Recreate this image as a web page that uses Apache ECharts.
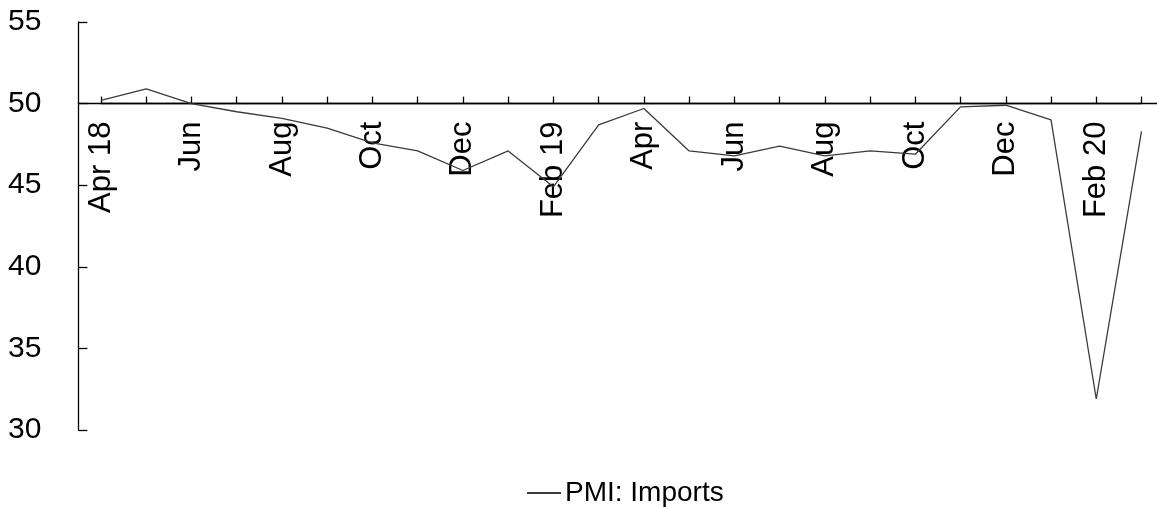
<!DOCTYPE html>
<html>
<head>
<meta charset="utf-8">
<script src="https://cdn.jsdelivr.net/npm/echarts@6/dist/echarts.min.js"></script>
<style>
html,body{margin:0;padding:0;background:#fff;}
#chart{width:1157px;height:507px;}
</style>
</head>
<body>
<div id="chart"></div>
<script>
const categories = ['Apr 18','May','Jun','Jul','Aug','Sep','Oct','Nov','Dec','Jan 19','Feb 19','Mar',
  'Apr','May','Jun','Jul','Aug','Sep','Oct','Nov','Dec','Jan 20','Feb 20','Mar'];
const pmiImports = [50.2, 50.9, 50.0, 49.5, 49.1, 48.5, 47.6, 47.1, 45.9, 47.1, 44.9, 48.7,
  49.7, 47.1, 46.8, 47.4, 46.8, 47.1, 46.9, 49.8, 49.9, 49.0, 31.9, 48.3];
const yTicks = [30, 35, 40, 45, 50, 55];
const seriesName = 'PMI: Imports';
const crossValue = 50;

const FONT = 'Liberation Sans, Arial, sans-serif';
const gridTop = 22, gridHeight = 408;
const axisX = 78.4, plotLeft = 101, plotRight = 1141.5;
const yMin = yTicks[0], yMax = yTicks[yTicks.length - 1];
const crossOffset = -(crossValue - yMin) / (yMax - yMin) * gridHeight;
const axisLineStyle = {color: '#000', width: 1.3};

const chart = echarts.init(document.getElementById('chart'), null, {renderer: 'canvas'});
chart.setOption({
  animation: false,
  backgroundColor: '#fff',
  textStyle: {fontFamily: FONT},
  grid: [
    {left: plotLeft, top: gridTop, height: gridHeight, right: 1157 - plotRight, containLabel: false},
    {left: axisX, top: gridTop, height: gridHeight, right: 0, containLabel: false}
  ],
  legend: {
    data: [seriesName],
    left: 522, top: 474,
    itemWidth: 34, itemHeight: 2, itemGap: 10,
    icon: 'rect',
    textStyle: {fontSize: 28, color: '#000', fontFamily: FONT, padding: [0,0,0,-1]}
  },
  xAxis: [{
    type: 'category',
    gridIndex: 0,
    data: categories,
    boundaryGap: false,
    position: 'bottom',
    offset: crossOffset,
    axisLine: {show: true, onZero: false, lineStyle: axisLineStyle},
    axisTick: {show: true, inside: true, length: 7, interval: 0, lineStyle: axisLineStyle},
    axisLabel: {interval: 1, rotate: 90, margin: 18, fontSize: 31, color: '#000', fontFamily: FONT},
    splitLine: {show: false}
  }, {
    type: 'value',
    gridIndex: 1,
    min: 0, max: 1,
    position: 'bottom',
    offset: crossOffset,
    axisLine: {show: true, onZero: false, lineStyle: axisLineStyle},
    axisTick: {show: false},
    axisLabel: {show: false},
    splitLine: {show: false}
  }],
  yAxis: [{
    type: 'value',
    gridIndex: 0,
    min: yMin, max: yMax, interval: 5,
    offset: plotLeft - axisX,
    axisLine: {show: true, lineStyle: axisLineStyle},
    axisTick: {show: true, inside: true, length: 9, lineStyle: axisLineStyle},
    axisLabel: {margin: 37, fontSize: 30, color: '#000', fontFamily: FONT},
    splitLine: {show: false}
  }, {
    type: 'value',
    gridIndex: 1,
    min: yMin, max: yMax,
    show: false
  }],
  series: [{
    name: seriesName,
    type: 'line',
    xAxisIndex: 0, yAxisIndex: 0,
    data: pmiImports,
    symbol: 'none',
    lineStyle: {color: '#3a3a3a', width: 1.3},
    itemStyle: {color: '#3a3a3a'}
  }]
});
</script>
</body>
</html>
